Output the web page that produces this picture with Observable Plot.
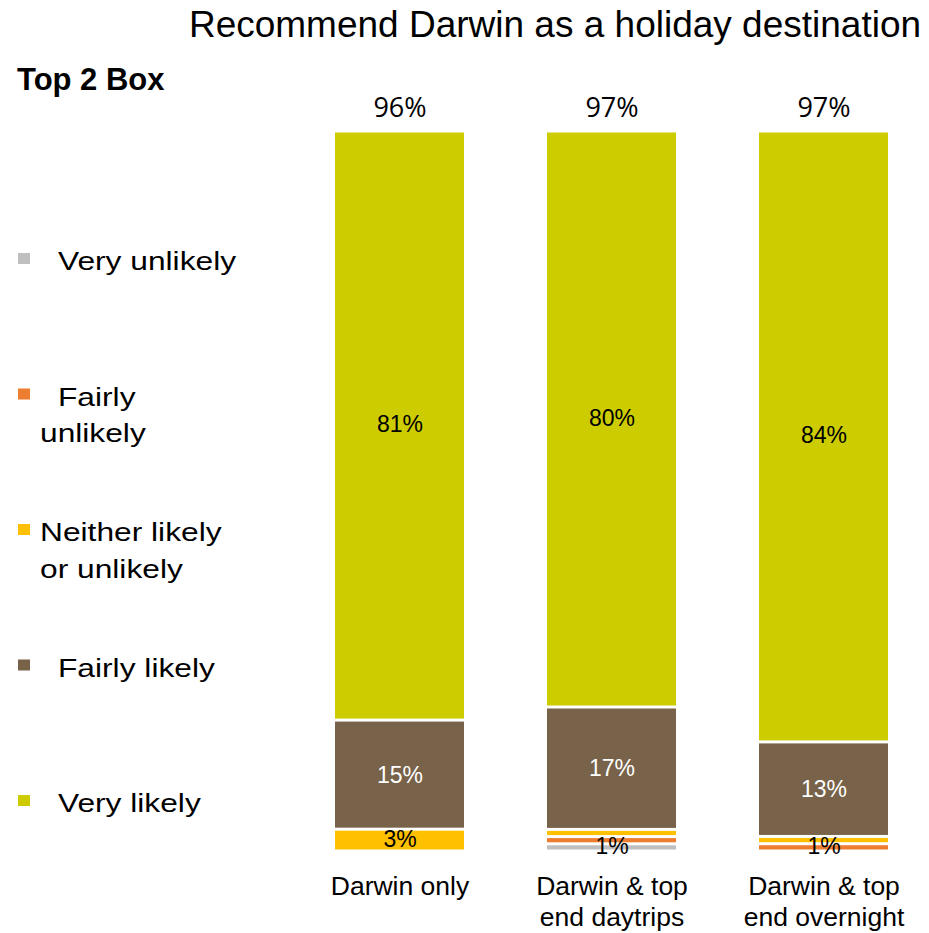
<!DOCTYPE html>
<html>
<head>
<meta charset="utf-8">
<script src="https://cdn.jsdelivr.net/npm/d3@7"></script>
<script src="https://cdn.jsdelivr.net/npm/@observablehq/plot@0.6"></script>
<style>
  html, body { margin: 0; padding: 0; background: #fff; }
  #wrap { position: relative; width: 929px; height: 933px; overflow: hidden; }
  #wrap svg { position: absolute; left: 0; top: 0; }
</style>
</head>
<body>
<div id="wrap"></div>
<script>
// ---- data ----
const title = "Recommend Darwin as a holiday destination";
const boxTitle = "Top 2 Box";
const categories = ["Darwin only", "Darwin & top end daytrips", "Darwin & top end overnight"];
const axisLabels = ["Darwin only", "Darwin & top\nend daytrips", "Darwin & top\nend overnight"];
const series = ["Very unlikely", "Fairly unlikely", "Neither likely or unlikely", "Fairly likely", "Very likely"];
const seriesColors = ["#BFBFBF", "#ED7D31", "#FFC000", "#786249", "#CCCC00"];
const legendLines = [["Very unlikely"], ["Fairly", "unlikely"], ["Neither likely", "or unlikely"], ["Fairly likely"], ["Very likely"]];
const veryUnlikely = [0, 1, 0];
const fairlyUnlikely = [0, 1, 1];
const neither = [3, 1, 1];
const fairlyLikely = [15, 17, 13];
const veryLikely = [81, 80, 84];
const top2 = [96, 97, 97];
const smallLabelSeries = [null, "Very unlikely", "Fairly unlikely"];

// ---- table ----
const valuesBySeries = [veryUnlikely, fairlyUnlikely, neither, fairlyLikely, veryLikely];
const rows = [];
categories.forEach((c, i) => {
  series.forEach((s, j) => {
    const v = valuesBySeries[j][i];
    if (v > 0) rows.push({category: c, series: s, value: v, ci: i});
  });
});
const labelText = d => (d.value >= 3 || smallLabelSeries[d.ci] === d.series) ? d.value + "%" : null;

const font = "'Liberation Sans', Arial, sans-serif";
const stackOpts = {x: "category", y: "value", z: "series", order: series, offset: "normalize"};

const chart = Plot.plot({
  width: 929,
  height: 933,
  marginTop: 131,
  marginBottom: 82,
  marginLeft: 313,
  marginRight: 20,
  style: {fontFamily: font, background: "transparent", color: "#000"},
  x: {domain: categories, paddingInner: 0.393, paddingOuter: 0.1, axis: null},
  y: {domain: [0, 1], axis: null},
  color: {domain: series, range: seriesColors},
  marks: [
    Plot.barY(rows, Plot.stackY({...stackOpts, fill: "series", insetTop: 1.5, insetBottom: 1.5})),
    Plot.text(rows, Plot.stackY({...stackOpts,
      text: d => d.series === "Fairly likely" ? null : labelText(d),
      dy: -1, fill: "#000", fontSize: 23})),
    Plot.text(rows, Plot.stackY({...stackOpts,
      text: d => d.series === "Fairly likely" ? labelText(d) : null,
      fill: "#fff", fontSize: 23})),
    Plot.text(categories, {x: d => d, frameAnchor: "top", dy: -34,
      text: (d, i) => top2[i] + "%", fontSize: 27, fontFamily: "'Open Sans', sans-serif", fill: "#000"}),
    Plot.text(categories, {x: d => d, frameAnchor: "bottom", dy: 20.5, lineAnchor: "top",
      lineHeight: 1.2, text: (d, i) => axisLabels[i], fontSize: 26.5, fill: "#000"})
  ]
});
document.getElementById("wrap").appendChild(chart);

// ---- overlay: title, box title, legend ----
const ov = d3.select("#wrap").append("svg")
  .attr("width", 929).attr("height", 933)
  .style("font-family", font);
ov.append("text").attr("x", 555).attr("y", 37).attr("text-anchor", "middle")
  .attr("font-size", 37).text(title);
ov.append("text").attr("x", 17).attr("y", 90).attr("font-size", 31).attr("font-weight", "bold").text(boxTitle);

const legendTop = 270, legendStep = 135.5, lineStep = 36.5;
const legendOrder = [...series.keys()];
legendOrder.forEach((j, k) => {
  const base = legendTop + k * legendStep;
  ov.append("rect").attr("x", 18).attr("y", base - 17).attr("width", 12).attr("height", 11)
    .attr("fill", seriesColors[j]);
  legendLines[j].forEach((line, li) => {
    const indent = (li === 0 && series[j] !== "Neither likely or unlikely") ? 58 : 40;
    ov.append("text")
      .attr("transform", `translate(${indent},${base + li * lineStep}) scale(1.22,1)`)
      .attr("font-size", 26).text(line);
  });
});
</script>
</body>
</html>
